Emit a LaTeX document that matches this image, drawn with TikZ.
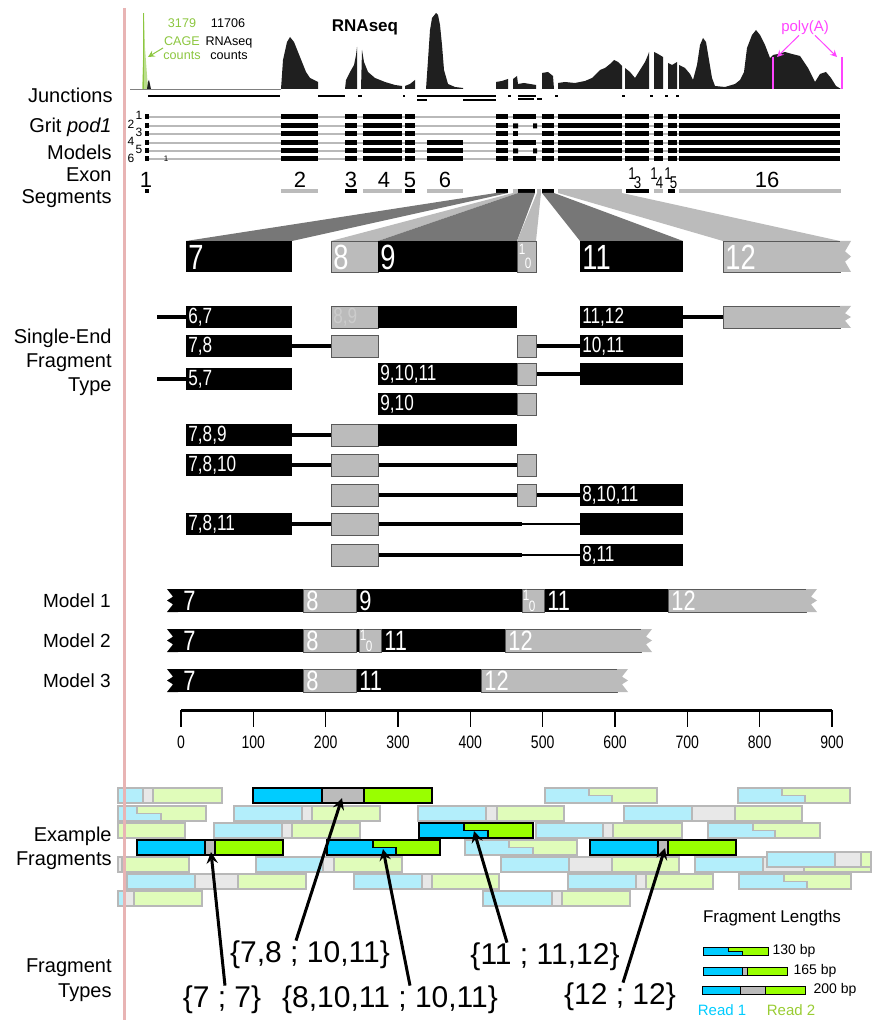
\documentclass[tikz,border=0pt]{standalone}
\usepackage{fontspec}
\setmainfont{Liberation Sans}
\newfontfamily\narrow[FakeStretch=0.78]{Liberation Sans}
\usetikzlibrary{arrows}
\definecolor{cyanR}{HTML}{00CCFF}
\definecolor{limeR}{HTML}{99FF00}
\definecolor{cyanL}{HTML}{B3EEFB}
\definecolor{limeL}{HTML}{E0FCBA}
\definecolor{gapR}{HTML}{BBBBBB}
\definecolor{gapL}{HTML}{E8E8E8}
\definecolor{edgeL}{HTML}{B8B8B8}
\definecolor{exgray}{HTML}{BBBBBB}
\definecolor{fundark}{HTML}{777777}
\definecolor{pinkbar}{HTML}{E8B4B4}
\definecolor{cagegreen}{HTML}{8CC63F}
\definecolor{polya}{HTML}{FF44FF}
\definecolor{readtwo}{HTML}{99CC33}
\newcommand\fh{15}
% fragment: read 1, gap, read 2
\newcommand\frag[5]{%
  \fill[rone] (#1,#5) rectangle (#2,#5+\fh);
  \fill[gapc] (#2,#5) rectangle (#3,#5+\fh);
  \fill[rtwo] (#3,#5) rectangle (#4,#5+\fh);
  \draw[edgec] (#2,#5) -- (#2,#5+\fh) (#3,#5) -- (#3,#5+\fh) (#1,#5) rectangle (#4,#5+\fh);}
% fragment whose reads overlap
\newcommand\sfrag[5]{%
  \fill[rone] (#1,#5) -- (#2,#5) -- (#2,#5+\fh/2) -- (#3,#5+\fh/2) -- (#3,#5+\fh) -- (#1,#5+\fh) -- cycle;
  \fill[rtwo] (#2,#5) -- (#4,#5) -- (#4,#5+\fh) -- (#3,#5+\fh) -- (#3,#5+\fh/2) -- (#2,#5+\fh/2) -- cycle;
  \draw[edgec] (#2,#5) -- (#2,#5+\fh/2) -- (#3,#5+\fh/2) -- (#3,#5+\fh) (#1,#5) rectangle (#4,#5+\fh);}
\newcommand\zigR[3]{\fill[exgray] (#1,#2) -- ++(11,0) -- ++(-6,#3/3) -- ++(6,#3/6) -- ++(-6,#3/6) -- ++(6,#3/3) -- ++(-11,0) -- cycle;}
\newcommand\zigL[3]{\fill (#1,#2) -- ++(-11,0) -- ++(6,#3/3) -- ++(-6,#3/6) -- ++(6,#3/6) -- ++(-6,#3/3) -- ++(11,0) -- cycle;}
\newcommand\seB[3]{\fill (#2,#1-11) rectangle (#3,#1+11);}
\newcommand\seG[3]{\path[exg] (#2,#1-11) rectangle (#3,#1+11);}
\newcommand\seL[3]{\draw[lnk] (#2,#1) -- (#3,#1);}
\begin{document}
\begin{tikzpicture}[x=0.5pt,y=-0.5pt,>=stealth,
  every node/.style={inner sep=0pt},
  lab/.style={font=\fontsize{10}{12}\selectfont,align=right,anchor=east},
  mlab/.style={font=\fontsize{9.5}{12}\selectfont,anchor=east},
  exg/.style={fill=exgray,draw=black!65,line width=0.4pt},
  intr/.style={gray!55,line width=0.7pt},
  lnk/.style={line width=2pt},
  cov/.style={fill=black!88},
  bnum/.style={anchor=west,text=white,font=\narrow\fontsize{17.5}{17.5}\selectfont},
  snum/.style={anchor=west,text=white,font=\narrow\fontsize{11}{11}\selectfont},
  mnum/.style={anchor=west,text=white,font=\narrow\fontsize{14}{14}\selectfont},
  tiny/.style={text=white,font=\narrow\fontsize{7.5}{7.5}\selectfont},
  seg/.style={font=\fontsize{11}{11}\selectfont},
  sub/.style={anchor=base west,font=\narrow\fontsize{8.5}{8.5}\selectfont},
  ftype/.style={font=\fontsize{15}{15}\selectfont},
  ptr/.style={->,line width=1.5pt},
  dim/.style={/utils/exec={\colorlet{rone}{cyanL}\colorlet{rtwo}{limeL}\colorlet{gapc}{gapL}\colorlet{edgec}{edgeL}},line width=0.75pt},
  bold/.style={/utils/exec={\colorlet{rone}{cyanR}\colorlet{rtwo}{limeR}\colorlet{gapc}{gapR}\colorlet{edgec}{black}},line width=0.9pt}]
\useasboundingbox (0,0) rectangle (872,1020);

% coverage
\draw[gray,line width=0.3pt] (130,89) -- (281,89);
\fill[cagegreen!60] (142,89) -- (143,60) -- (144,13) -- (145,48) -- (147,75) -- (148,89) -- cycle;
\draw[cagegreen,line width=0.4pt] (143.5,13) -- (143.5,89);
\fill[cov] (147,89) -- (148,82) -- (149,80) -- (151,89) -- cycle;
\fill[cov] (281,89) -- (283,60) -- (287,42) -- (290,37) -- (294,42) -- (298,52) -- (302,62) -- (306,72) -- (310,78) -- (314,80) -- (318,82) -- (318,89) -- cycle;
\fill[cov] (345,89) -- (346,80) -- (350,72) -- (354,65) -- (356,55) -- (357,47) -- (357,89) -- cycle;
\fill[cov] (361,89) -- (362,50) -- (364,62) -- (368,72) -- (375,78) -- (385,82) -- (395,85) -- (402,86) -- (402,89) -- cycle;
\fill[cov] (405,89) -- (405,86) -- (410,84) -- (415,80) -- (415,89) -- cycle;
\fill[cov] (426,89) -- (428,60) -- (430,30) -- (432,18) -- (436,13) -- (438,15) -- (440,25) -- (442,45) -- (444,70) -- (448,84) -- (455,87) -- (463,88) -- (463,89) -- cycle;
\fill[cov] (496,89) -- (496,82) -- (502,81) -- (508,79) -- (508,89) -- cycle;
\fill[cov] (513,89) -- (513,79) -- (517,76) -- (518,84) -- (524,83) -- (530,84) -- (536,85) -- (536,89) -- cycle;
\fill[cov] (542,89) -- (542,73) -- (548,72) -- (553,76) -- (554,89) -- cycle;
\fill[cov] (558,89) -- (558,83) -- (565,82) -- (575,83) -- (585,81) -- (592,78) -- (600,70) -- (605,68) -- (610,64) -- (614,60) -- (618,62) -- (622,66) -- (622,89) -- cycle;
\fill[cov] (625,89) -- (625,68) -- (630,72) -- (635,78) -- (640,70) -- (645,62) -- (648,55) -- (649,52) -- (649,89) -- cycle;
\fill[cov] (654,89) -- (654,52) -- (658,54) -- (663,57) -- (663,89) -- cycle;
\fill[cov] (668,89) -- (668,63) -- (672,65) -- (677,62) -- (677,89) -- cycle;
\fill[cov] (679,89) -- (679,65) -- (685,68) -- (690,74) -- (693,80) -- (697,65) -- (700,45) -- (703,38) -- (706,42) -- (709,60) -- (712,78) -- (715,86) -- (725,87) -- (735,84) -- (740,80) -- (744,72) -- (747,48) -- (752,35) -- (756,30) -- (760,35) -- (765,45) -- (770,58) -- (773,55) -- (778,54) -- (785,52) -- (792,54) -- (800,56) -- (808,68) -- (815,82) -- (820,74) -- (826,72) -- (831,78) -- (836,86) -- (841,89) -- cycle;
\draw[polya,line width=0.8pt] (773,57) -- (773,89) (842,57) -- (842,89);

\node[font=\fontsize{6.3}{6.3}\selectfont,text=cagegreen] (cage) at (182,23) {3179};
\node[font=\fontsize{6.3}{6.3}\selectfont] (rna) at (228,23) {11706};
\node[font=\fontsize{6.3}{7}\selectfont,text=cagegreen,align=center] (cagec) at (182,48) {CAGE\\counts};
\node[font=\fontsize{6.3}{7}\selectfont,align=center] (rnac) at (229,48) {RNAseq\\counts};
\node[font=\bfseries\fontsize{8.5}{8.5}\selectfont] (rnaseq) at (365,27) {RNAseq};
\node[font=\fontsize{7.5}{7.5}\selectfont,text=polya] (pA) at (805,28) {poly(A)};
\coordinate (cg) at (148,57);
\coordinate (pa1) at (777,57);
\coordinate (pa2) at (837,57);
\draw[->,cagegreen,line width=0.5pt] (cagec.west) -- (cg);
\draw[->,polya,line width=0.5pt] ([xshift=-3pt]pA.south) -- (pa1);
\draw[->,polya,line width=0.5pt] ([xshift=5pt]pA.south) -- (pa2);

% junctions
\foreach \a/\b/\y in {148/280/96,318/345/96,358/362/96,403/405/96,417/496/96,417/427/100,463/496/100,508/511/96,518/536/96,518/534/99,537/542/99,555/558/96,622/625/96,650/653/96,665/668/96,676/679/96}
  \draw[line width=0.8pt] (\a,\y) -- (\b,\y);

% grit models
\foreach \y in {117,126,134,143,151,159} {
  \draw[intr] (149,\y) -- (840,\y);
  \foreach \a/\b in {145/149,281/318,345/357,363/402,405/415,496/508,542/554,558/622,625/649,654/663,668/677,679/840}
    \fill (\a,\y-2.5) rectangle (\b,\y+2.5);
}
\foreach \y in {143,151,159} \fill (427,\y-2.5) rectangle (463,\y+2.5);
\foreach \y in {117,143,159} \fill (513,\y-2.5) rectangle (536,\y+2.5);
\foreach \y in {126,151} \fill (513,\y-2.5) rectangle (518,\y+2.5) (533,\y-2.5) rectangle (537,\y+2.5);
\fill (513,131.5) rectangle (518,136.5);
\foreach \n/\x/\y in {1/139/115,2/131/124,3/139/132,4/131/141,5/139/149,6/131/158}
  \node[font=\fontsize{6}{6}\selectfont] (g\n) at (\x,\y) {\n};
\node[font=\fontsize{4}{4}\selectfont] (gt) at (166,159) {1};

% exon segments
\foreach \a/\b in {145/149,345/357,405/415,496/508,518/535,542/554,626/649,668/675}
  \fill (\a,189) rectangle (\b,193);
\foreach \a/\b in {281/318,363/402,427/463,513/518,537/541,558/622,654/663,679/841}
  \fill[exgray] (\a,189) rectangle (\b,193);
\foreach \n/\x in {1/146,2/300,3/351,4/384,5/410,6/445,16/767}
  \node[seg] (s\n) at (\x,180) {\n};
\foreach \n/\x in {3/628,4/650,5/664}
  \node[sub] (s1\n) at (\x,180) {1\kern-1pt\raisebox{-4.5pt}{\n}};

% zoomed exons
\fill[fundark] (496,193) -- (508,193) -- (292,241) -- (186,241) -- cycle;
\fill[exgray] (513,193) -- (518,193) -- (378,241) -- (331,241) -- cycle;
\fill[fundark] (518,193) -- (535,193) -- (517,241) -- (378,241) -- cycle;
\fill[exgray] (537,193) -- (541,193) -- (536,241) -- (517,241) -- cycle;
\fill[fundark] (542,193) -- (554,193) -- (683,241) -- (580,241) -- cycle;
\fill[exgray] (558,193) -- (622,193) -- (840,241) -- (723,241) -- cycle;
\fill (186,241) rectangle (292,272);
\path[exg] (331,241) rectangle (378,272);
\fill (378,241) rectangle (517,272);
\path[exg] (517,241) rectangle (536,272);
\fill (580,241) rectangle (683,272);
\path[exg] (723,241) rectangle (840,272);
\zigR{840}{241}{31}
\node[bnum] (b7) at (188,257) {7};
\node[bnum] (b8) at (333,257) {8};
\node[bnum] (b9) at (380,257) {9};
\node[tiny] (b10a) at (522,249) {1};
\node[tiny] (b10b) at (528,263) {0};
\node[bnum] (b11) at (582,257) {11};
\node[bnum] (b12) at (725,257) {12};

% single-end fragment types
\seL{317}{157}{186} \seL{317}{683}{723}
\seB{317}{186}{292} \seG{317}{331}{378} \seB{317}{378}{517} \seB{317}{580}{683} \seG{317}{723}{840}
\zigR{840}{306}{22}
\seL{346}{292}{331} \seL{346}{536}{580}
\seB{346}{186}{292} \seG{346}{331}{378} \seG{346}{517}{536} \seB{346}{580}{683}
\seL{374}{536}{580}
\seB{374}{378}{517} \seG{374}{517}{536} \seB{374}{580}{683}
\seL{379}{157}{186} \seB{379}{186}{292}
\seB{404}{378}{517} \seG{404}{517}{536}
\seL{435}{292}{331}
\seB{435}{186}{292} \seG{435}{331}{378} \seB{435}{378}{517}
\seL{465}{292}{331} \seL{465}{378}{517}
\seB{465}{186}{292} \seG{465}{331}{378} \seG{465}{517}{536}
\seL{495}{378}{517} \seL{495}{536}{580}
\seG{495}{331}{378} \seG{495}{517}{536} \seB{495}{580}{683}
\seL{524}{292}{331} \seL{524}{378}{522} \draw[line width=1.3pt] (522,524) -- (580,524);
\seB{524}{186}{292} \seG{524}{331}{378} \seB{524}{580}{683}
\seL{555}{378}{522} \draw[line width=1.3pt] (522,555) -- (580,555);
\seG{555}{331}{378} \seB{555}{580}{683}
\node[snum] (f67) at (188,317) {6,7};
\node[snum,text=white!80!black] (f89) at (333,317) {8,9};
\node[snum] (f1112) at (582,317) {11,12};
\node[snum] (f78) at (188,346) {7,8};
\node[snum] (f1011) at (582,346) {10,11};
\node[snum] (f91011) at (380,374) {9,10,11};
\node[snum] (f57) at (188,379) {5,7};
\node[snum] (f910) at (380,404) {9,10};
\node[snum] (f789) at (188,435) {7,8,9};
\node[snum] (f7810) at (188,465) {7,8,10};
\node[snum] (f81011) at (582,495) {8,10,11};
\node[snum] (f7811) at (188,524) {7,8,11};
\node[snum] (f811) at (582,555) {8,11};

% models
\zigL{178}{589}{23}
\fill (178,589) rectangle (806,612);
\path[exg] (303,589) rectangle (356,612) (522,589) rectangle (544,612) (668,589) rectangle (806,612);
\zigR{806}{589}{23}
\zigL{178}{629}{23}
\fill (178,629) rectangle (641,652);
\path[exg] (303,629) rectangle (356,652) (359,629) rectangle (381,652) (505,629) rectangle (641,652);
\zigR{641}{629}{23}
\zigL{178}{669}{23}
\fill (178,669) rectangle (617,692);
\path[exg] (303,669) rectangle (356,692) (481,669) rectangle (617,692);
\zigR{617}{669}{23}
\foreach \m/\y in {1/600.5,2/640.5,3/680.5} {
  \node[mlab] (m\m) at (111,\y) {Model \m};
  \node[mnum] (m\m a) at (183,\y) {7};
  \node[mnum] (m\m b) at (306,\y) {8};
}
\node[mnum] (m1c) at (359,600.5) {9};
\node[tiny] (m1d) at (526,595) {1};
\node[tiny] (m1e) at (532,606) {0};
\node[mnum] (m1f) at (547,600.5) {11};
\node[mnum] (m1g) at (671,600.5) {12};
\node[tiny] (m2d) at (363,635) {1};
\node[tiny] (m2e) at (369,646) {0};
\node[mnum] (m2f) at (384,640.5) {11};
\node[mnum] (m2g) at (508,640.5) {12};
\node[mnum] (m3f) at (359,680.5) {11};
\node[mnum] (m3g) at (484,680.5) {12};

% axis
\draw[line width=1.5pt] (181,710) -- (832,710);
\foreach \i in {0,...,9} {
  \draw[line width=0.7pt] (181+72.33*\i,710) -- ++(0,17);
  \node[font=\narrow\fontsize{9}{9}\selectfont] (t\i) at (181+72.33*\i,742) {\pgfmathparse{int(100*\i)}\pgfmathresult};
}

% left labels
\node[lab] (junc) at (113,95) {Junctions};
\node[lab] (grit) at (112,127) {Grit \textit{pod1}};
\node[lab] (mods) at (112,152) {Models};
\node[lab] (exon) at (112,175) {Exon};
\node[lab] (segs) at (112,199) {Segments};
\node[lab] (setype) at (112,362) {Single-End\\Fragment\\Type};
\node[lab] (exfr) at (112,848) {Example\\Fragments};
\node[lab,font=\fontsize{10}{12.5}\selectfont] (frty) at (112,980) {Fragment\\Types};

% example fragments
\begin{scope}[dim]
\frag{118}{143}{153}{222}{788} \sfrag{545}{589}{612}{657}{788} \sfrag{738}{782}{805}{850}{788}
\sfrag{118}{137}{161}{206}{806} \frag{234}{302}{312}{380}{806} \frag{418}{486}{497}{564}{806} \frag{624}{692}{735}{802}{806}
\frag{118}{118}{118}{185}{823} \frag{214}{282}{292}{360}{823} \frag{536}{603}{613}{682}{823} \sfrag{708}{753}{775}{820}{823}
\sfrag{465}{509}{533}{577}{840}
\frag{118}{118}{122}{189}{857} \frag{256}{323}{334}{402}{857} \frag{501}{569}{612}{679}{857} \frag{695}{763}{804}{871}{857}
\frag{767}{835}{861}{871}{852}
\frag{127}{195}{238}{306}{874} \frag{354}{422}{432}{499}{874} \frag{568}{636}{646}{713}{874} \sfrag{739}{784}{807}{851}{874}
\frag{118}{125}{134}{202}{891} \frag{483}{552}{562}{630}{891}
\end{scope}
\begin{scope}[bold]
\frag{253}{322}{364}{432}{788}
\sfrag{419}{464}{488}{533}{823}
\frag{137}{205}{215}{283}{840}
\sfrag{327}{373}{396}{440}{840}
\frag{590}{658}{668}{736}{840}
\end{scope}
\draw[pinkbar,line width=1.5pt] (124,8) -- (124,1020);

% fragment types
\node[ftype] (ft77) at (222,1000) {\{7 ; 7\}};
\node[ftype] (ft78) at (310,955) {\{7,8 ; 10,11\}};
\node[ftype] (ft81) at (390,1000) {\{8,10,11 ; 10,11\}};
\node[ftype] (ft11) at (545,957) {\{11 ; 11,12\}};
\node[ftype] (ft12) at (620,997) {\{12 ; 12\}};
\coordinate (p77) at (211,852);
\coordinate (p78) at (342,798);
\coordinate (p81) at (383,849);
\coordinate (p11) at (474,831);
\coordinate (p12) at (665,848);
\draw[ptr] ([xshift=1.5pt]ft77.north) -- (p77);
\draw[ptr] ([xshift=-7pt]ft78.north) -- (p78);
\draw[ptr] ([xshift=10pt]ft81.north) -- (p81);
\draw[ptr] ([xshift=-19pt]ft11.north) -- (p11);
\draw[ptr] ([xshift=1.5pt]ft12.north) -- (p12);

% legend
\node[font=\fontsize{8.5}{8.5}\selectfont] (leg) at (772,918) {Fragment Lengths};
\begin{scope}[bold,line width=0.5pt]
\renewcommand\fh{8}
\sfrag{703}{728}{742}{768}{947}
\frag{703}{742}{747}{787}{967}
\frag{702}{740}{765}{805}{986}
\end{scope}
\node[font=\fontsize{7}{7}\selectfont] (l130) at (794,951) {130 bp};
\node[font=\fontsize{7}{7}\selectfont] (l165) at (815,971) {165 bp};
\node[font=\fontsize{7}{7}\selectfont] (l200) at (835,990) {200 bp};
\node[font=\fontsize{7.5}{7.5}\selectfont,text=cyanR] (r1) at (722,1010) {Read 1};
\node[font=\fontsize{7.5}{7.5}\selectfont,text=readtwo] (r2) at (791,1010) {Read 2};
\end{tikzpicture}
\end{document}
